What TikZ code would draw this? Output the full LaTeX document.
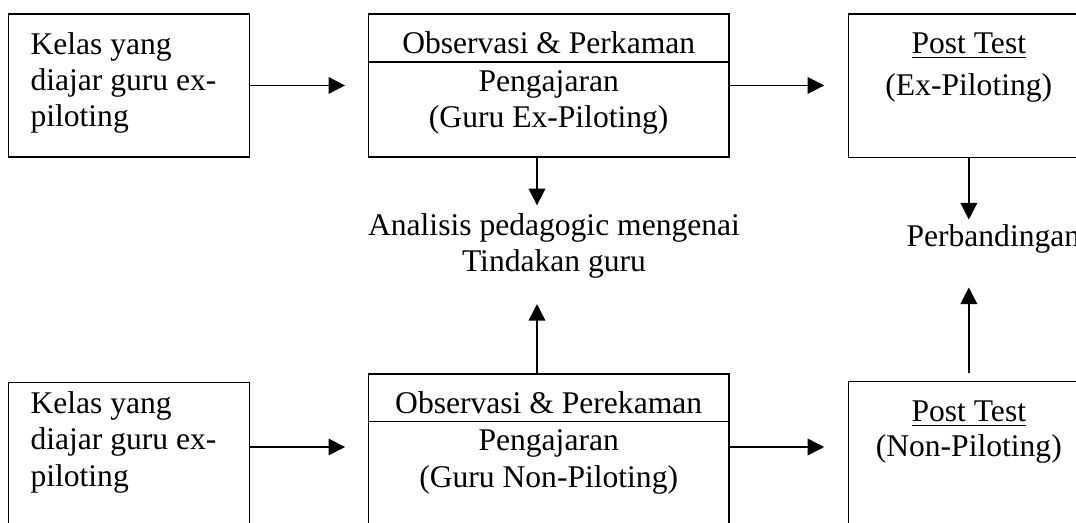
\documentclass[tikz,border=0pt]{standalone}
\usepackage{fontspec}
\setmainfont{Liberation Serif}
\usetikzlibrary{arrows.meta,positioning}
\tikzset{
  txt/.style={font=\fontsize{12}{13.7}\selectfont,text=black,inner sep=0pt},
  box/.style={draw=black,line width=0.6pt,inner sep=0pt,outer sep=0pt,anchor=north west},
  arr/.style={-{Triangle[length=6.3pt,width=6.3pt]},draw=black,line width=0.6pt}
}
\begin{document}
\begin{tikzpicture}[x=0.38pt,y=-0.38pt]
\path[use as bounding box] (0,0) rectangle (1076,523);
\clip (0,0) rectangle (1076,523);
\coordinate (midcol) at (537,0); \coordinate (rowB) at (0,447);
\node[box,minimum width=91.6pt,minimum height=54.3pt] (kelasA) at (8.3,14) {};
\node[box,minimum width=137pt,minimum height=18.35pt] (obsAhead) at (368.5,14) {};
\node[box,anchor=north,minimum width=137pt,minimum height=36pt,below=0pt of obsAhead] (obsAbody) {};
\node[box,minimum width=91.3pt,minimum height=54.6pt] (postA) at (848.7,14) {};
\node[txt,align=left,anchor=base west] (kelasAtxt) at (30,126.3) {Kelas yang\\diajar guru ex-\\piloting};
\node[txt,anchor=base] (obsAtitle) at (548.7,53.3) {Observasi \& Perkaman};
\node[txt,align=center,anchor=base] (obsAtxt) at (548.7,127.3) {Pengajaran\\(Guru Ex-Piloting)};
\node[txt,align=center,anchor=base] (postAtxt) at (968.8,95) {\underline{Post Test}\\[2.1pt](Ex-Piloting)};
\node[txt,align=center,anchor=base,inner sep=3pt] (analisis) at (554,271.7) {Analisis pedagogic mengenai\\Tindakan guru};
\node[txt,anchor=base west] (perb) at (906,246.7) {Perbandingan};
\node[box,minimum width=91.6pt,minimum height=59.8pt] (kelasB) at (8.3,382.7) {};
\node[box,minimum width=137pt,minimum height=18.1pt] (obsBhead) at (368.5,374) {};
\node[box,anchor=north,minimum width=137pt,minimum height=45pt,below=0pt of obsBhead] (obsBbody) {};
\node[box,minimum width=91.3pt,minimum height=60.2pt] (postB) at (848.7,381.5) {};
\node[txt,align=left,anchor=base west] (kelasBtxt) at (30,486) {Kelas yang\\diajar guru ex-\\piloting};
\node[txt,anchor=base] (obsBtitle) at (548.7,413.3) {Observasi \& Perekaman};
\node[txt,align=center,anchor=base] (obsBtxt) at (548.7,487) {Pengajaran\\(Guru Non-Piloting)};
\node[txt,align=center,anchor=base] (postBtxt) at (968.8,456.7) {\underline{Post Test}\\[-0.5pt](Non-Piloting)};
\draw[arr,shorten >=8.9pt] (kelasA.east) -- (kelasA.east -| obsAbody.west);
\draw[arr,shorten >=9.3pt] (obsAbody.east |- kelasA.east) -- (kelasA.east -| postA.west);
\draw[arr] (obsAbody.south -| midcol) -- (analisis.north -| midcol);
\draw[arr,shorten >=6.5pt] (obsBhead.north -| midcol) -- (analisis.south -| midcol);
\draw[arr,shorten >=1.8pt] (postA.south) -- (postA.south |- perb.north);
\draw[arr,shorten <=3.2pt,shorten >=12.7pt] (postB.north) -- (postB.north |- perb.south);
\draw[arr,shorten >=8.9pt] (kelasB.east |- rowB) -- (obsBbody.west |- rowB);
\draw[arr,shorten >=9.3pt] (obsBbody.east |- rowB) -- (postB.west |- rowB);
\end{tikzpicture}
\end{document}
